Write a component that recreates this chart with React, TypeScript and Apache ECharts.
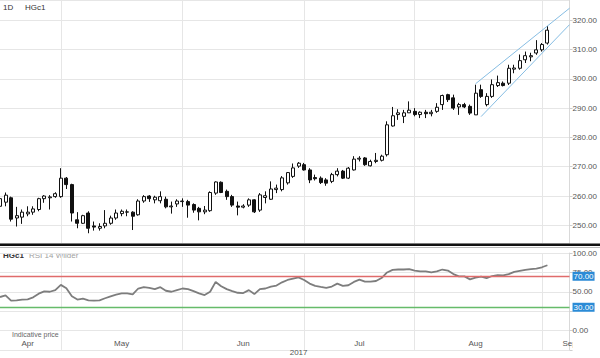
import React, { useEffect, useRef } from 'react';
import * as echarts from 'echarts';

// ---------- data ----------
const openP = [
  256.5, 257.9, 259.4, 252.5, 252.8, 253.9, 254.5, 255.4, 259.1, 259.4,
  259.8, 259.8, 266.1, 263.9, 251.9, 250.7, 254.2, 249.8, 249.0, 249.8,
  250.7, 252.5, 254.0, 254.5, 254.5, 253.6, 258.3, 260.0, 258.7, 258.4,
  258.9, 256.3, 257.3, 258.1, 258.1, 257.1, 255.8, 254.6, 255.0, 261.0,
  264.7, 261.6, 259.8, 256.6, 256.2, 256.9, 258.7, 255.2, 259.5, 258.9,
  262.2, 262.2, 264.5, 266.7, 270.2, 270.7, 268.9, 266.3, 266.1, 265.5,
  265.0, 267.3, 268.5, 266.1, 268.9, 272.6, 273.0, 270.3, 271.8, 272.2,
  274.1, 283.9, 287.8, 287.2, 288.4, 288.9, 287.8, 288.6, 288.1, 288.9,
  291.2, 294.6, 293.5, 290.4, 291.2, 290.6, 287.7, 296.3, 291.2, 294.0,
  297.7, 298.5, 298.5, 303.3, 303.6, 306.5, 307.5, 308.8, 309.9, 312.2,
];
const closeP = [
  259.1, 260.3, 252.1, 253.3, 254.5, 254.5, 255.6, 259.1, 260.0, 259.7,
  260.8, 266.1, 263.9, 254.2, 250.7, 253.3, 249.0, 249.4, 249.6, 250.7,
  252.5, 254.2, 254.8, 254.6, 253.1, 258.3, 259.8, 259.1, 259.6, 259.8,
  256.3, 256.6, 258.3, 258.3, 256.9, 255.2, 254.6, 255.2, 261.2, 264.8,
  261.2, 259.8, 256.9, 256.2, 256.6, 258.7, 254.6, 260.4, 260.1, 262.4,
  262.7, 266.2, 268.0, 269.6, 271.2, 268.9, 265.5, 265.9, 264.6, 264.4,
  267.3, 268.5, 266.1, 269.5, 272.6, 272.9, 270.7, 271.8, 272.2, 273.6,
  284.3, 287.4, 288.4, 288.4, 289.3, 287.8, 288.6, 288.1, 288.6, 290.3,
  294.3, 292.9, 290.0, 291.2, 290.4, 288.3, 295.1, 294.0, 294.0, 298.0,
  298.7, 297.7, 303.6, 303.7, 306.2, 307.9, 307.9, 309.9, 311.7, 316.6,
];
const lowP = [
  256.3, 256.5, 251.3, 249.6, 250.5, 253.1, 253.6, 254.8, 257.7, 255.4,
  259.4, 259.4, 262.4, 251.3, 249.0, 250.5, 247.3, 248.2, 248.2, 249.0,
  250.2, 251.9, 253.1, 253.1, 248.4, 253.3, 257.7, 258.0, 257.5, 257.5,
  255.8, 254.0, 256.3, 256.3, 252.6, 254.3, 251.7, 253.8, 254.6, 260.4,
  261.0, 258.7, 256.3, 253.4, 255.8, 256.3, 254.2, 254.6, 257.5, 258.7,
  261.0, 261.6, 263.9, 266.2, 269.6, 268.7, 264.4, 265.3, 264.1, 263.5,
  264.4, 266.7, 265.8, 265.8, 268.7, 271.8, 270.3, 270.1, 271.2, 271.8,
  273.5, 283.7, 286.0, 284.9, 288.4, 287.2, 286.6, 286.6, 287.2, 288.4,
  289.4, 292.1, 289.4, 287.7, 290.0, 287.7, 287.7, 293.5, 290.6, 293.5,
  297.2, 297.4, 297.9, 301.9, 303.1, 305.4, 306.0, 308.2, 309.3, 311.7,
];
const highP = [
  259.8, 261.2, 259.8, 256.3, 255.4, 256.5, 256.5, 259.4, 260.3, 260.3,
  261.3, 269.5, 266.5, 264.2, 254.5, 253.6, 254.8, 251.3, 250.7, 255.2,
  253.3, 255.4, 255.4, 255.4, 254.8, 258.9, 260.3, 260.3, 260.1, 261.6,
  259.8, 258.1, 258.9, 259.2, 258.7, 257.5, 256.3, 256.6, 261.6, 265.0,
  265.0, 262.2, 260.4, 258.1, 257.2, 259.2, 258.9, 261.0, 261.6, 265.0,
  263.9, 266.8, 268.2, 271.1, 271.6, 271.3, 269.5, 267.3, 266.7, 266.1,
  267.9, 269.5, 268.9, 269.9, 273.6, 273.6, 273.3, 272.4, 274.7, 274.1,
  285.5, 290.4, 289.6, 289.4, 292.3, 290.0, 288.9, 289.4, 289.4, 291.7,
  294.6, 294.9, 294.6, 291.8, 291.8, 291.2, 298.0, 298.0, 295.1, 299.8,
  301.1, 299.1, 304.8, 304.8, 308.3, 309.3, 308.9, 313.2, 312.2, 318.0,
];
const rsi14 = [
  43.2, 45.4, 38.6, 39.0, 39.9, 40.3, 42.8, 47.5, 50.4, 50.0,
  52.1, 58.9, 54.6, 44.1, 39.9, 41.1, 39.0, 38.6, 39.0, 41.6,
  44.1, 46.2, 47.9, 47.9, 46.6, 54.2, 55.9, 55.1, 53.4, 55.9,
  51.3, 50.0, 52.1, 54.2, 53.4, 50.8, 47.9, 45.8, 50.0, 62.7,
  57.2, 53.4, 50.8, 48.7, 48.3, 52.1, 47.0, 53.4, 54.2, 56.7,
  58.0, 62.2, 65.2, 66.9, 68.6, 65.2, 60.5, 57.6, 56.3, 55.1,
  56.7, 60.5, 57.6, 58.4, 62.7, 65.6, 63.1, 63.1, 63.9, 67.7,
  74.9, 78.3, 78.7, 78.7, 79.1, 77.4, 76.2, 76.2, 74.9, 76.2,
  78.7, 77.4, 72.8, 69.8, 69.8, 66.0, 68.1, 69.4, 67.7, 70.3,
  71.5, 71.1, 72.8, 75.7, 77.0, 78.3, 79.1, 79.9, 81.6, 84.2,
];
// trend channel drawn on the chart: [category index, price]
const channelUpper = [[86, 298.3], [103, 324.1]];
const channelLower = [[87, 287.1], [103, 318.5]];
const rsiLevels = [70, 30];
const rsiLevelColors = ['rgb(224,107,107)', 'rgb(102,187,106)'];
const monthTickLabels = ['Apr', 'May', 'Jun', 'Jul', 'Aug', 'Sep'];
const monthLabelIndex = [5, 22, 44, 65, 86, 103];
const yearLabel = '2017';
const yearLabelIndex = 54;

// trading-day categories (Apr 13 2017 onward), 4 empty future slots at the end
const HOLIDAYS = ['2017-04-14', '2017-05-29', '2017-07-04', '2017-09-04'];
function tradingDays(start: string, n: number): string[] {
  const out: string[] = [];
  const d = new Date(start + 'T00:00:00Z');
  while (out.length < n) {
    const iso = d.toISOString().slice(0, 10);
    const wd = d.getUTCDay();
    if (wd !== 0 && wd !== 6 && !HOLIDAYS.includes(iso)) out.push(iso);
    d.setUTCDate(d.getUTCDate() + 1);
  }
  return out;
}
const categories = tradingDays('2017-04-13', openP.length + 4);
const monthStarts = new Set<number>();
categories.forEach((c, i) => {
  if (i > 0 && c.slice(5, 7) !== categories[i - 1].slice(5, 7)) monthStarts.add(i);
});

const FONT = '"Liberation Sans", Arial, sans-serif';
const GRID_LINE = '#e6e6e6';

export default function App() {
  const ref = useRef<HTMLDivElement>(null);
  useEffect(() => {
    const chart = echarts.init(ref.current!, undefined, { renderer: 'svg' });
    const candles = openP.map((o, i) => [o, closeP[i], lowP[i], highP[i]]);
    const levelSeries = rsiLevels.map((lv, k) => ({
      type: 'line', xAxisIndex: 1, yAxisIndex: 1, data: [], symbol: 'none',
      color: rsiLevelColors[k], z: 1,
      markLine: {
        silent: true, symbol: ['none', 'none'],
        lineStyle: { color: rsiLevelColors[k], width: 1.3, type: 'solid', opacity: 1 },
        label: {
          show: true, position: 'end', distance: 3, formatter: lv.toFixed(2),
          color: '#fff', backgroundColor: '#2b8bd6', padding: [1, 1, 0, 1], fontSize: 8, fontFamily: FONT,
        },
        data: [{ yAxis: lv }],
      },
    }));
    const option: any = {
      animation: false,
      textStyle: { fontFamily: FONT },
      grid: [
        { left: 0, top: 0, width: 571, height: 243.5 },
        { left: 0, top: 253, width: 571, height: 96.9 },
      ],
      xAxis: [
        {
          type: 'category', gridIndex: 0, data: categories, boundaryGap: false,
          axisLine: { show: false }, axisTick: { show: false }, axisLabel: { show: false },
          splitLine: { show: true, interval: (i: number) => monthStarts.has(i), lineStyle: { color: GRID_LINE } },
        },
        {
          type: 'category', gridIndex: 1, data: categories, boundaryGap: false,
          axisLine: { show: false }, axisTick: { show: false },
          axisLabel: {
            inside: true, margin: 2, fontSize: 8, color: '#555', fontFamily: FONT,
            interval: (i: number) => monthLabelIndex.includes(i),
            formatter: (_v: string, i: number) => monthTickLabels[monthLabelIndex.indexOf(i)] ?? '',
          },
          splitLine: { show: true, interval: (i: number) => monthStarts.has(i), lineStyle: { color: GRID_LINE } },
        },
        {
          type: 'category', gridIndex: 1, data: categories, boundaryGap: false, position: 'bottom',
          axisLine: { show: false }, axisTick: { show: false }, splitLine: { show: false },
          axisLabel: {
            margin: -1, fontSize: 8, color: '#555', fontFamily: FONT,
            interval: (i: number) => i === yearLabelIndex,
            formatter: () => yearLabel,
          },
        },
      ],
      yAxis: [
        {
          type: 'value', gridIndex: 0, position: 'right', min: 243.8, max: 326.9, splitNumber: 8,
          axisLine: { show: true, lineStyle: { color: '#d9d9d9' } },
          axisTick: { show: true, length: 3, lineStyle: { color: '#cfcfcf' } },
          axisLabel: { showMinLabel: false, showMaxLabel: false, margin: 3, fontSize: 8, color: '#555', fontFamily: FONT, formatter: (v: number) => v.toFixed(2) },
          splitLine: { show: true, lineStyle: { color: GRID_LINE } },
        },
        {
          type: 'value', gridIndex: 1, position: 'right', min: -25, max: 100, interval: 25,
          axisLine: { show: true, lineStyle: { color: '#d9d9d9' } },
          axisTick: { show: true, length: 3, lineStyle: { color: '#cfcfcf' } },
          axisLabel: {
            margin: 3, fontSize: 8, color: '#555', fontFamily: FONT,
            // 25.00 sits fully behind the 30.00 badge in the reference
            formatter: (v: number) => (v < 0 || v === 25 ? '' : v.toFixed(2)),
          },
          splitLine: { show: true, lineStyle: { color: GRID_LINE } },
        },
      ],
      series: [
        {
          type: 'candlestick', xAxisIndex: 0, yAxisIndex: 0, data: candles, barWidth: 3.5,
          itemStyle: { color: '#ffffff', color0: '#111111', borderColor: '#111111', borderColor0: '#111111', borderWidth: 1 },
          markLine: {
            silent: true, symbol: ['none', 'none'], label: { show: false },
            lineStyle: { color: '#86bde3', width: 1, type: 'solid' },
            data: [
              [{ coord: channelUpper[0] }, { coord: channelUpper[1] }],
              [{ coord: channelLower[0] }, { coord: channelLower[1] }],
            ],
          },
        },
        ...levelSeries,
        {
          type: 'line', xAxisIndex: 1, yAxisIndex: 1, data: rsi14, symbol: 'none', showSymbol: false,
          lineStyle: { color: '#7d7d7d', width: 1.8 }, z: 3,
        },
      ],
      graphic: [
        { type: 'text', left: 3, top: 3, style: { text: '1D', fill: '#333', font: `8px ${FONT}` } },
        { type: 'text', left: 25, top: 3, style: { text: 'HGc1', fill: '#333', font: `8px ${FONT}` } },
        { type: 'rect', shape: { x: 0, y: 243.5, width: 600, height: 2.5 }, style: { fill: '#111' }, z: 50 },
        { type: 'rect', shape: { x: 0, y: 247, width: 600, height: 1 }, style: { fill: '#bbb' }, z: 50 },
        { type: 'text', left: 3, top: 251, style: { text: 'HGc1', fill: '#333', font: `bold 8px ${FONT}` } },
        { type: 'text', left: 29, top: 251, style: { text: 'RSI 14 Wilder', fill: '#a0a0a0', font: `8px ${FONT}` } },
        { type: 'text', left: 12, top: 331, style: { text: 'Indicative price', fill: '#666', font: `7px ${FONT}` } },
        { type: 'rect', shape: { x: 572.5, y: 336, width: 28, height: 13 }, style: { fill: '#fff' }, z: 50 },
      ],
    };
    chart.setOption(option);
    return () => chart.dispose();
  }, []);
  return (
    <div
      ref={ref}
      style={{ position: 'fixed', left: 0, top: 0, width: 600, height: 358, background: '#fff' }}
    />
  );
}
